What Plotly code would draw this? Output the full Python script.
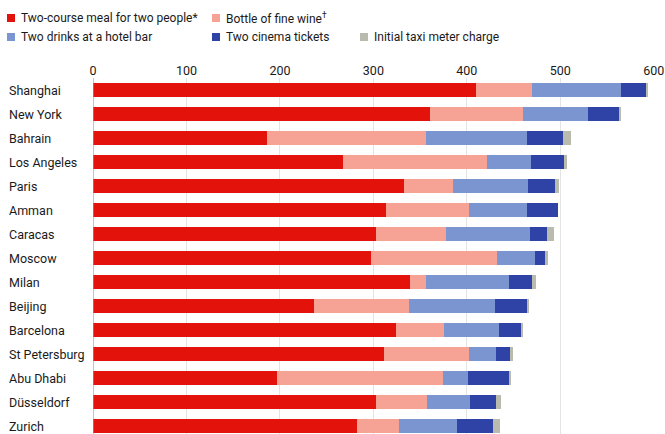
import plotly.graph_objects as go

cities = ["Shanghai", "New York", "Bahrain", "Los Angeles", "Paris", "Amman", "Caracas",
          "Moscow", "Milan", "Beijing", "Barcelona", "St Petersburg", "Abu Dhabi",
          "Düsseldorf", "Zurich"]
meal = [410, 361, 186, 267, 333, 314, 303, 298, 339, 237, 324, 311, 197, 303, 282]
wine = [60, 99, 170, 155, 52, 88, 75, 134, 17, 101, 52, 91, 177, 54, 45]
drinks = [95, 70, 108, 47, 80, 62, 90, 41, 89, 92, 58, 29, 27, 46, 63]
cinema = [27, 33, 39, 36, 29, 34, 18, 11, 25, 35, 24, 15, 45, 28, 38]
taxi = [1, 2, 8, 2, 5, 0, 7, 3, 4, 1, 2, 3, 1, 6, 7]

series_names = ["Two-course meal for two people*", "Bottle of fine wine<sup>†</sup>",
                "Two drinks at a hotel bar", "Two cinema tickets",
                "Initial taxi meter charge"]
series_values = [meal, wine, drinks, cinema, taxi]
colors = ["#e3120b", "#f6a396", "#7a95cf", "#2f43a6", "#b8bbad"]
x_ticks = [0, 100, 200, 300, 400, 500, 600]

FONT = "Roboto, Liberation Sans, sans-serif"
FS = 12.5
LFS = 12

fig = go.Figure()
for name, vals, col in zip(series_names, series_values, colors):
    fig.add_trace(go.Bar(
        y=cities, x=vals, name=name, orientation="h",
        marker=dict(color=col, line=dict(width=0)),
        showlegend=False,
    ))

W, H = 665, 434
ML, MR, MT, MB = 93, 11, 78, 0
pitch = 24.0
n_vis = (H - MT - MB) / pitch
PW = W - ML - MR
PH = H - MT - MB

fig.update_layout(
    width=W, height=H,
    margin=dict(l=ML, r=MR, t=MT, b=MB, pad=0),
    barmode="stack", bargap=0.4,
    plot_bgcolor="white", paper_bgcolor="white",
    font=dict(family=FONT, size=FS, color="#1a1a1a"),
    xaxis=dict(
        side="top", range=[0, 600.3], tickvals=x_ticks,
        ticktext=[str(v) for v in x_ticks],
        showgrid=True, gridcolor="#e4e4e4", gridwidth=1,
        zeroline=False, showline=False, ticks="",
        ticklabeloverflow="allow",
        tickfont=dict(family=FONT, size=FS, color="#1a1a1a"),
        fixedrange=True,
    ),
    yaxis=dict(
        type="category", categoryorder="array", categoryarray=cities,
        range=[-0.5 + n_vis, -0.5],
        showticklabels=False, showgrid=False, zeroline=False, showline=False,
        ticks="",
    ),
)

# zero line
fig.add_shape(type="line", xref="x", yref="paper", x0=0, x1=0, y0=0, y1=1,
              line=dict(color="#9a9a9a", width=1.2))

# city labels, left aligned
for c in cities:
    fig.add_annotation(x=-ML / PW, xref="paper", y=c, yref="y",
                       text=c, showarrow=False, xanchor="left", yanchor="middle",
                       xshift=7, font=dict(family=FONT, size=FS, color="#1a1a1a"))

# legend (manual)
leg_pos = [(7, 18), (212, 18), (7, 37), (212, 37), (360, 37)]
for (px, py), name, col in zip(leg_pos, series_names, colors):
    fig.add_shape(type="rect", xref="paper", yref="paper",
                  x0=(px - ML) / PW, x1=(px + 8 - ML) / PW,
                  y0=(H - MB - (py + 4)) / PH, y1=(H - MB - (py - 4)) / PH,
                  fillcolor=col, line=dict(width=0))
    fig.add_annotation(x=(px + 12 - ML) / PW, xref="paper",
                       y=(H - MB - py) / PH, yref="paper",
                       text=name, showarrow=False, xanchor="left", yanchor="middle",
                       font=dict(family=FONT, size=LFS, color="#1a1a1a"))

fig.write_html("out.html")
